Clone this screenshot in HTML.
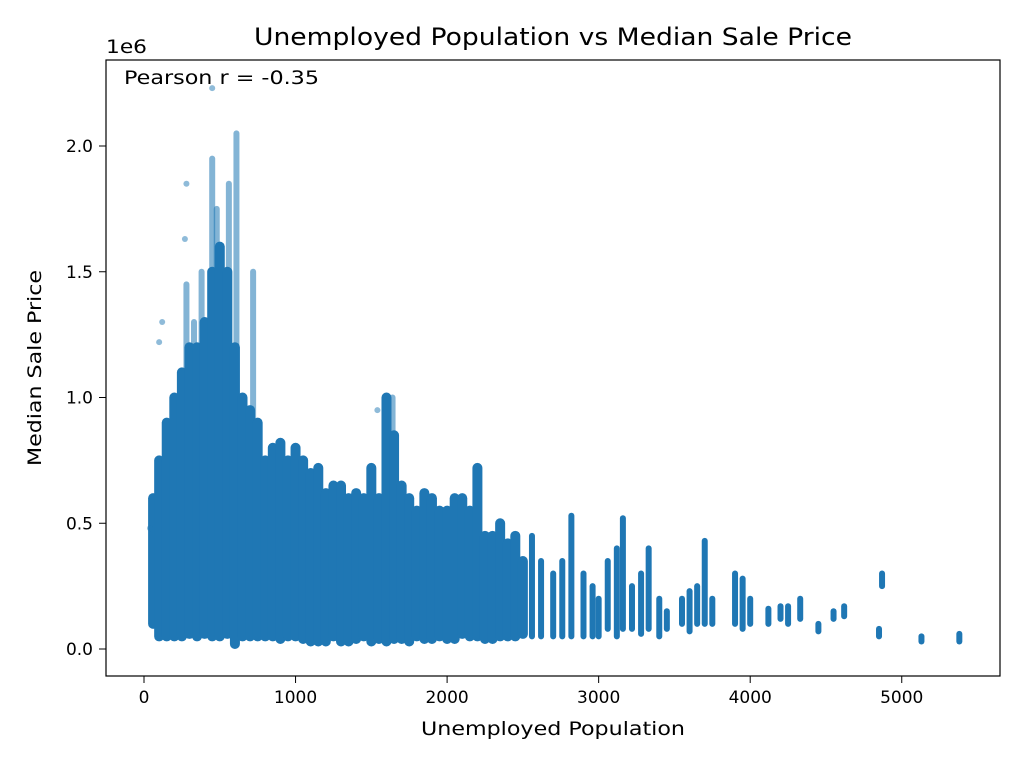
<!DOCTYPE html>
<html><head><meta charset="utf-8">
<style>
html,body{margin:0;padding:0;background:#fff;}
svg{display:block;font-family:"DejaVu Sans","Liberation Sans",sans-serif;}
</style></head>
<body>
<svg id="chart" width="1024" height="768" viewBox="0 0 1024 768">
<rect width="1024" height="768" fill="#fff"/>
<g id="marks"></g>
<rect x="106" y="60" width="894" height="616" fill="none" stroke="#000" stroke-width="1.2"/>
<g id="axes"></g>
<text x="254" y="45" font-size="24" textLength="598" lengthAdjust="spacingAndGlyphs">Unemployed Population vs Median Sale Price</text>
<text x="421" y="735" font-size="19" textLength="264" lengthAdjust="spacingAndGlyphs">Unemployed Population</text>
<text transform="translate(41,466) rotate(-90)" font-size="19" textLength="196" lengthAdjust="spacingAndGlyphs">Median Sale Price</text>
<text x="106" y="53" font-size="19" textLength="41" lengthAdjust="spacingAndGlyphs">1e6</text>
<text x="124" y="84" font-size="19" textLength="195" lengthAdjust="spacingAndGlyphs">Pearson r = -0.35</text>
</svg>
<script>
const xTicks=[0,1000,2000,3000,4000,5000];
const yTicks=[0,0.5,1.0,1.5,2.0];
const yTickLabels=["0.0","0.5","1.0","1.5","2.0"];
const colX=[60,100,150,200,250,300,350,400,450,500,550,600,650,700,750,800,850,900,950,1000,1050,1100,1150,1200,1250,1300,1350,1400,1450,1500,1550,1600,1650,1700,1750,1800,1850,1900,1950,2000,2050,2100,2150,2200,2250,2300,2350,2400,2450,2500,
2560,2620,2700,2760,2820,2900,2960,3000,3060,3120,3160,3220,3280,3330,3400,3450,3550,3600,3650,3700,3750,3900,3950,4000,4120,4200,4250,4330,4450,4550,4620,4850,4870,5130,5380];
const colLow=[0.1,0.05,0.05,0.05,0.05,0.06,0.05,0.06,0.05,0.05,0.06,0.02,0.05,0.05,0.05,0.05,0.05,0.04,0.05,0.05,0.04,0.03,0.03,0.03,0.05,0.03,0.03,0.04,0.05,0.03,0.04,0.03,0.04,0.04,0.03,0.05,0.04,0.04,0.05,0.04,0.04,0.06,0.05,0.05,0.04,0.04,0.05,0.05,0.05,0.06,
0.05,0.05,0.05,0.05,0.05,0.05,0.05,0.05,0.08,0.05,0.08,0.08,0.06,0.08,0.05,0.08,0.1,0.07,0.1,0.1,0.1,0.1,0.08,0.1,0.1,0.12,0.1,0.12,0.07,0.12,0.13,0.05,0.25,0.03,0.03];
const colHigh=[0.6,0.75,0.9,1.0,1.1,1.2,1.2,1.3,1.5,1.6,1.5,1.2,1.0,0.95,0.9,0.75,0.8,0.82,0.75,0.8,0.75,0.7,0.72,0.62,0.65,0.65,0.6,0.62,0.6,0.72,0.6,1.0,0.85,0.65,0.6,0.55,0.62,0.6,0.55,0.55,0.6,0.6,0.55,0.72,0.45,0.45,0.5,0.42,0.45,0.35,
0.45,0.35,0.3,0.35,0.53,0.3,0.25,0.2,0.35,0.4,0.52,0.25,0.3,0.4,0.2,0.15,0.2,0.23,0.25,0.43,0.2,0.3,0.28,0.2,0.16,0.17,0.17,0.2,0.1,0.15,0.17,0.08,0.3,0.05,0.06];
const spikeX=[280,330,380,450,480,560,610,720,1640];
const spikeLow=[1.0,1.0,1.1,1.2,1.2,1.2,1.2,0.9,0.7];
const spikeHigh=[1.45,1.3,1.5,1.95,1.75,1.85,2.05,1.5,1.0];
const outX=[450,280,120,100,270,1540,40];
const outY=[2.23,1.85,1.3,1.22,1.63,0.95,0.48];
const X=v=>144+v*0.15155, Y=v=>649-v*251.5;
const NS="http://www.w3.org/2000/svg";
const marks=document.getElementById('marks'), axes=document.getElementById('axes');
function seg(x,lo,hi,op,w){
  const l=document.createElementNS(NS,'line');
  
  
  l.setAttribute('x1',X(x));l.setAttribute('x2',X(x));
  l.setAttribute('y1',Y(lo));l.setAttribute('y2',Y(hi));
  l.setAttribute('stroke','#1f77b4');l.setAttribute('stroke-width',w);
  l.setAttribute('stroke-linecap','round');l.setAttribute('opacity',op);
  marks.appendChild(l);
}
spikeX.forEach((x,i)=>seg(x,spikeLow[i],spikeHigh[i],0.55,6));
colX.forEach((x,i)=>seg(x,colLow[i],colHigh[i],1,x<=2500?10:6));
outX.forEach((x,i)=>{
  const c=document.createElementNS(NS,'circle');
  
  
  c.setAttribute('cx',X(x));c.setAttribute('cy',Y(outY[i]));c.setAttribute('r',3);
  c.setAttribute('fill','#1f77b4');c.setAttribute('opacity',0.5);
  marks.appendChild(c);
});
xTicks.forEach(t=>{
  const l=document.createElementNS(NS,'line');
  
  
  l.setAttribute('x1',X(t));l.setAttribute('x2',X(t));l.setAttribute('y1',676);l.setAttribute('y2',683);l.setAttribute('stroke','#000');
  axes.appendChild(l);
  const tx=document.createElementNS(NS,'text');
  
  
  tx.setAttribute('x',X(t));tx.setAttribute('y',703);tx.setAttribute('font-size','17');tx.setAttribute('text-anchor','middle');
  tx.textContent=t;axes.appendChild(tx);
});
yTicks.forEach((t,i)=>{
  const l=document.createElementNS(NS,'line');
  
  
  l.setAttribute('x1',99);l.setAttribute('x2',106);l.setAttribute('y1',Y(t));l.setAttribute('y2',Y(t));l.setAttribute('stroke','#000');
  axes.appendChild(l);
  const tx=document.createElementNS(NS,'text');
  
  
  tx.setAttribute('x',93);tx.setAttribute('y',Y(t)+6);tx.setAttribute('font-size','17');tx.setAttribute('text-anchor','end');
  tx.textContent=yTickLabels[i];axes.appendChild(tx);
});
</script>
</body></html>
